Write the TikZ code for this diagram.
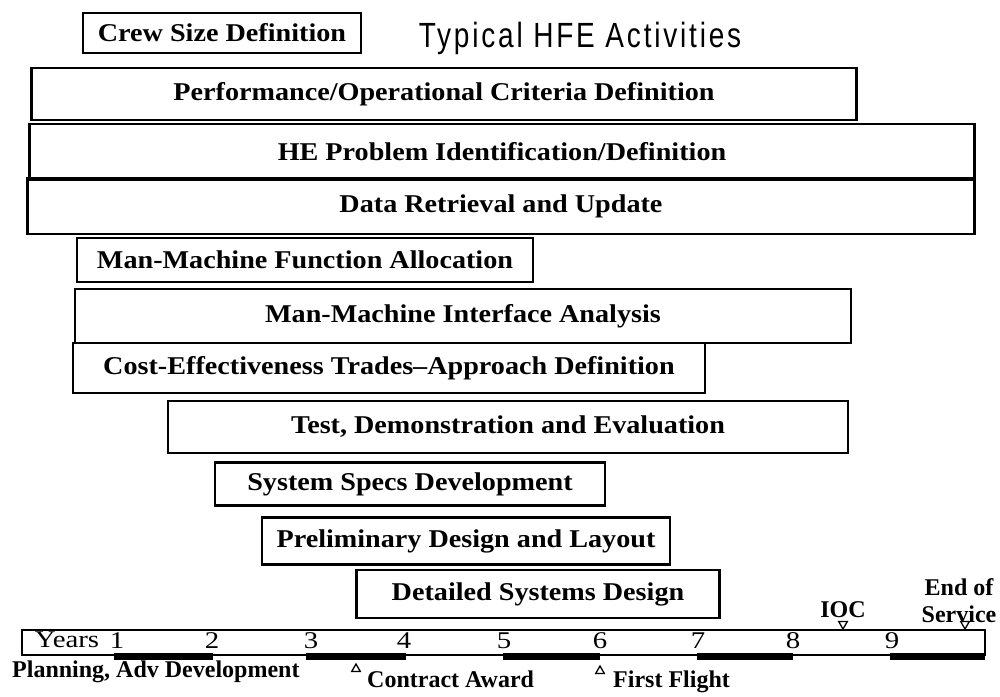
\documentclass[tikz,border=0pt]{standalone}
\usepackage{fontspec}
\usetikzlibrary{shapes.geometric}
\setmainfont{Liberation Serif}
\newfontfamily\boxfont{Liberation Serif}[FakeStretch=1.1, Ligatures=TeX]
\newfontfamily\axisserif{Liberation Serif}[FakeStretch=1.2]
\newfontfamily\titlefont{Liberation Sans}[FakeStretch=0.8, LetterSpace=8]
\begin{document}
\begin{tikzpicture}[x=1pt,y=-1pt,
  activity/.style={draw, line width=2.6pt, inner sep=0pt, align=center,
                   font=\boxfont\bfseries\fontsize{25.6}{29}\selectfont},
  axisfont/.style={font=\axisserif\fontsize{24}{26}\selectfont, inner sep=0pt},
  milestone/.style={font=\bfseries\fontsize{24}{27}\selectfont, inner sep=0pt},
  phase/.style={line width=7pt},
  tri/.style={draw, line width=1.3pt, fill=white, regular polygon, regular polygon sides=3,
              minimum size=10pt, inner sep=0pt},
  tridown/.style={tri, shape border rotate=180}]
\useasboundingbox (0,0) rectangle (1000,696);

% activity bars
\node[activity, minimum width=278pt, minimum height=40pt] (crew) at (222,33) {Crew Size Definition};
\node[font=\titlefont\fontsize{35}{38}\selectfont, inner sep=0pt] (title) at (580,38) {Typical HFE Activities};
\node[activity, minimum width=825pt, minimum height=52pt] (perf) at (444,94) {Performance/Operational Criteria Definition};
\node[activity, minimum width=945pt, minimum height=56pt] (prob) at (502,152) {HE Problem Identification/Definition};
\node[activity, minimum width=947pt, minimum height=56pt] (data) at (501,206) {Data Retrieval and Update};
\node[activity, minimum width=456pt, minimum height=44pt] (alloc) at (305,260) {Man-Machine Function Allocation};
\node[activity, minimum width=776pt, minimum height=54pt] (iface) at (463,316) {Man-Machine Interface Analysis};
\node[activity, minimum width=632pt, minimum height=50pt] (cost) at (389,368) {Cost-Effectiveness Trades--Approach Definition};
\node[activity, minimum width=680pt, minimum height=52pt] (test) at (508,427) {Test, Demonstration and Evaluation};
\node[activity, minimum width=390pt, minimum height=43pt] (specs) at (410,484) {System Specs Development};
\node[activity, minimum width=408pt, minimum height=47pt] (prelim) at (466,541) {Preliminary Design and Layout};
\node[activity, minimum width=363pt, minimum height=48pt] (detail) at (538,594) {Detailed Systems Design};

% time axis
\coordinate (axNW) at (22,630);
\coordinate (axSE) at (985,655);
\draw[line width=1.8pt] (axNW) rectangle (axSE);
\node[axisfont] (years) at (67,640) {Years};
\foreach \n/\x in {1/117,2/212,3/311,4/404,5/504,6/600,7/698,8/793,9/892}
  \node[axisfont] (y\n) at (\x,641) {\n};

% program phases along the bottom of the axis
\foreach \a/\b in {114/213,306/406,503/600,697/793,890/985}
  \draw[phase] (\a,656.5) -- (\b,656.5);

% milestones
\node[milestone, anchor=west] (plan) at (12,672) {Planning, Adv Development};
\node[tri] (ca) at (356,669) {};
\node[milestone, anchor=west] (catext) at (367,679) {Contract Award};
\node[tri] (ff) at (600,671) {};
\node[milestone, anchor=west] (fftext) at (613,682) {First Flight};
\node[milestone] (ioc) at (843,610) {IOC};
\node[milestone, align=center] (eos) at (959,601) {End of\\Service};
\node[tridown] (iocm) at (843,624) {};
\node[tridown] (eosm) at (965,624) {};
\draw[line width=1.3pt] (iocm.south) -- (843,630);
\draw[line width=1.3pt] (eosm.south) -- (965,630);
\end{tikzpicture}
\end{document}
